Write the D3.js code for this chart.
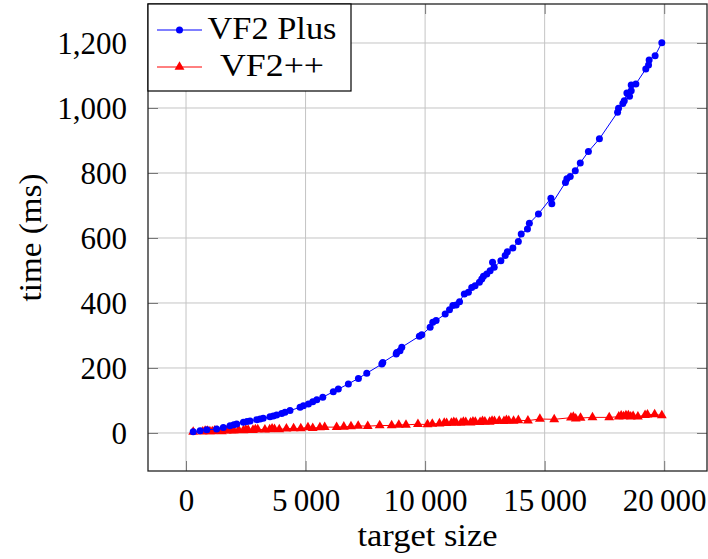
<!DOCTYPE html>
<html>
<head>
<meta charset="utf-8">
<script src="https://cdn.jsdelivr.net/npm/d3@7"></script>
<style>
  body { margin: 0; background: #fff; }
  svg text { font-family: "Liberation Serif", "Times New Roman", serif; fill: #000; }
</style>
</head>
<body>
<svg id="chart"></svg>
<script>
// VF2 Plus timings: [target size, time ms]
let vf2plus = [
  [300,4],[590,7],[870,10],[1280,12],[1560,17],[1840,22],[2000,25],[2120,28],[2400,33],
  [2550,35],[2680,37],[2960,41],[3100,43],[3230,45],[3510,50],[3650,52],[3790,55],[4000,60],
  [4140,64],[4350,69],[4770,79],[4910,84],[5120,89],[5300,96],[5470,102],[5720,110],[6160,127],
  [6370,135],[6790,151],[7210,168],[7560,184],[8190,212],[8230,217],[8790,243],[8815,248],
  [8950,253],[9025,264],[9760,298],[9860,302],[10210,325],[10320,341],[10460,346],[10840,366],
  [11020,379],[11160,392],[11300,394],[11440,404],[11640,428],[11810,433],[11950,448],[12090,453],
  [12270,464],[12370,474],[12440,482],[12580,489],[12720,499],[12820,525],[12890,510],[13170,530],
  [13350,546],[13440,558],[13670,569],[13900,589],[14020,612],[14280,628],[14360,645],[14740,674],
  [15260,722],[15300,705],[15870,771],[15930,782],[16070,789],[16280,807],[16490,831],[16830,866],
  [17290,905],[18050,987],[18090,999],[18270,1014],[18330,1022],[18440,1046],[18550,1036],
  [18620,1053],[18620,1071],[18815,1074],[19230,1120],[19345,1132],[19370,1148],[19620,1161],
  [19900,1201]
];

// VF2++ timings
let vf2pp = [
  [300,3],[700,4],[800,6],[900,6],[1000,5],[1100,5],[1200,7],[1300,6],[1500,5],[1700,7],
  [1900,8],[2000,7],[2200,9],[2400,8],[2500,10],[2600,9],[2800,9],[2900,11],[3000,11],
  [3300,10],[3500,11],[3600,13],[3700,12],[3900,11],[4200,13],[4500,14],[4800,14],[5100,17],
  [5300,15],[5600,17],[5800,18],[6300,18],[6600,19],[6900,20],[7200,22],[7600,21],[8100,23],
  [8600,23],[8900,25],[9200,25],[9700,27],[10100,26],[10300,28],[10600,29],[10800,31],
  [10900,30],[11100,31],[11200,33],[11300,32],[11500,31],[11600,34],[11700,33],[11900,32],
  [12000,35],[12100,34],[12300,33],[12400,36],[12500,35],[12700,34],[12800,37],[12900,36],
  [13100,37],[13300,36],[13400,39],[13500,38],[13700,37],[13900,39],[14300,38],[14800,43],
  [15400,42],[16100,47],[16200,49],[16300,44],[16500,46],[17000,48],[17700,48],[18100,50],
  [18200,53],[18300,51],[18400,54],[18500,54],[18600,50],[18700,52],[18900,50],[19200,55],
  [19300,56],[19600,57],[19900,54]
];

let xTicks = [0, 5000, 10000, 15000, 20000];
let yTicks = [0, 200, 400, 600, 800, 1000, 1200];
let seriesNames = ["VF2 Plus", "VF2++"];

let w = 708, h = 559;
let pLeft = 148, pRight = 707, pTop = 4, pBottom = 471;

let svg = d3.select("#chart")
    .attr("width", w)
    .attr("height", h);

let x = d3.scaleLinear().domain([-1590, 21790]).range([pLeft, pRight]);
let y = d3.scaleLinear().domain([-117, 1320]).range([pBottom, pTop]);

// grid
let grid = svg.append("g");
grid.selectAll(".gx")
    .data(xTicks)
    .enter()
    .append("line")
    .attr("x1", d => x(d)).attr("x2", d => x(d))
    .attr("y1", pTop).attr("y2", pBottom)
    .attr("stroke", "#c4c4c4").attr("stroke-width", 1);
grid.selectAll(".gy")
    .data(yTicks)
    .enter()
    .append("line")
    .attr("x1", pLeft).attr("x2", pRight)
    .attr("y1", d => y(d)).attr("y2", d => y(d))
    .attr("stroke", "#c4c4c4").attr("stroke-width", 1);

// axes, ticks inside on every side
let fmtX = d => d >= 1000 ? d3.format(",")(d).replace(",", "\u2009") : d;
let tickLen = 10;

let xAxis = d3.axisBottom(x).tickValues(xTicks).tickSizeInner(-tickLen).tickSizeOuter(0).tickFormat(fmtX).tickPadding(18);
let gx = svg.append("g").attr("transform", `translate(0,${pBottom})`).call(xAxis);
let yAxis = d3.axisLeft(y).tickValues(yTicks).tickSizeInner(-tickLen).tickSizeOuter(0).tickFormat(d3.format(",")).tickPadding(21);
let gy = svg.append("g").attr("transform", `translate(${pLeft},0)`).call(yAxis);
let gx2 = svg.append("g").attr("transform", `translate(0,${pTop})`)
    .call(d3.axisTop(x).tickValues(xTicks).tickSizeInner(-tickLen).tickSizeOuter(0).tickFormat(""));
let gy2 = svg.append("g").attr("transform", `translate(${pRight},0)`)
    .call(d3.axisRight(y).tickValues(yTicks).tickSizeInner(-tickLen).tickSizeOuter(0).tickFormat(""));

[gx, gy, gx2, gy2].forEach(g => {
  g.select(".domain").remove();
  g.selectAll(".tick line").attr("stroke", "#777").attr("stroke-width", 1);
  g.selectAll("text").style("font-size", "31px").attr("fill", "#000");
});
gx.selectAll("text").attr("dy", "0.71em");
gy.selectAll("text").attr("dy", "0.34em");

// series
let line = d3.line().x(d => x(d[0])).y(d => y(d[1]));
let plot = svg.append("g");
let triSize = 42;

plot.append("path")
    .datum(vf2pp)
    .attr("d", line)
    .attr("fill", "none")
    .attr("stroke", "#ff0000")
    .attr("stroke-width", 1);
plot.selectAll(".tri")
    .data(vf2pp)
    .enter()
    .append("path")
    .attr("d", d3.symbol(d3.symbolTriangle, triSize))
    .attr("transform", d => `translate(${x(d[0])},${y(d[1])})`)
    .attr("fill", "#ff0000");

plot.append("path")
    .datum(vf2plus)
    .attr("d", line)
    .attr("fill", "none")
    .attr("stroke", "#0000ff")
    .attr("stroke-width", 1);
plot.selectAll(".dot")
    .data(vf2plus)
    .enter()
    .append("circle")
    .attr("cx", d => x(d[0]))
    .attr("cy", d => y(d[1]))
    .attr("r", 3.5)
    .attr("fill", "#0000ff");

// frame
svg.append("rect")
    .attr("x", pLeft).attr("y", pTop)
    .attr("width", pRight - pLeft).attr("height", pBottom - pTop)
    .attr("fill", "none").attr("stroke", "#222").attr("stroke-width", 1.3);

// legend
let legend = svg.append("g");
legend.append("rect")
    .attr("x", 148).attr("y", 4).attr("width", 203).attr("height", 87)
    .attr("fill", "#fff").attr("stroke", "#000").attr("stroke-width", 1.2);
let colors = ["#0000ff", "#ff0000"];
let legendWidths = [129, 104];
seriesNames.forEach((name, i) => {
  let ly = 30 + i * 37;
  legend.append("line")
      .attr("x1", 157).attr("x2", 202).attr("y1", ly).attr("y2", ly)
      .attr("stroke", colors[i]).attr("stroke-width", 1);
  if (i == 0) {
    legend.append("circle").attr("cx", 179.5).attr("cy", ly).attr("r", 3.5).attr("fill", colors[i]);
  } else {
    legend.append("path").attr("d", d3.symbol(d3.symbolTriangle, triSize))
        .attr("transform", `translate(179.5,${ly})`).attr("fill", colors[i]);
  }
  legend.append("text")
      .attr("x", 272).attr("y", ly + 9)
      .attr("text-anchor", "middle")
      .attr("textLength", legendWidths[i])
      .attr("lengthAdjust", "spacingAndGlyphs")
      .style("font-size", "31px")
      .text(name);
});

// axis labels
svg.append("text")
    .attr("x", (pLeft + pRight) / 2).attr("y", 546)
    .attr("text-anchor", "middle")
    .attr("textLength", 140)
    .attr("lengthAdjust", "spacingAndGlyphs")
    .style("font-size", "31px")
    .text("target size");
svg.append("text")
    .attr("transform", `translate(41,${(pTop + pBottom) / 2}) rotate(-90)`)
    .attr("text-anchor", "middle")
    .attr("textLength", 128)
    .attr("lengthAdjust", "spacingAndGlyphs")
    .style("font-size", "31px")
    .text("time (ms)");
</script>
</body>
</html>
